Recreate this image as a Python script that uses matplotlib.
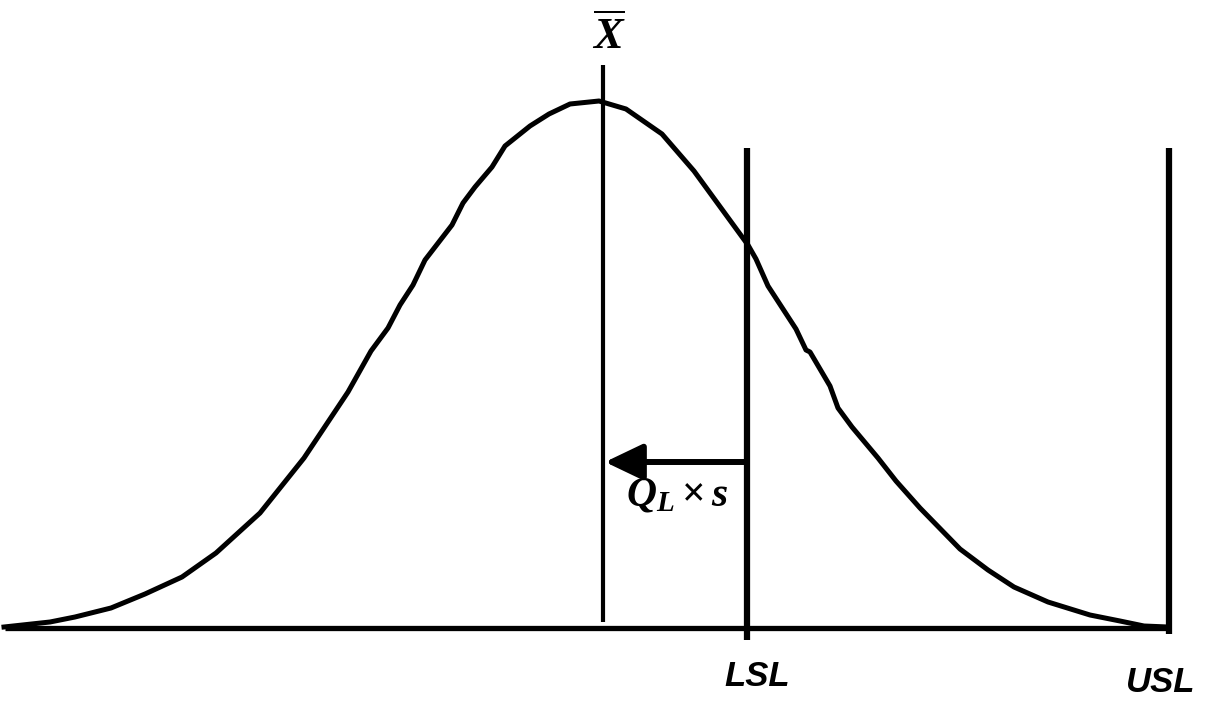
import matplotlib
matplotlib.use("Agg")
import matplotlib.pyplot as plt
from matplotlib.patches import FancyArrowPatch

# Кривa нормального розподілу: x та висота над базовою лінією
curve_x = [4, 50, 75, 111, 145, 182, 216, 260, 304, 348, 371, 388, 400, 413, 425,
           452, 463, 475, 492, 505, 530, 549, 570, 599,
           626, 662, 694, 748, 756, 768, 796, 806, 810, 830, 838, 852, 878, 896,
           920, 960, 988, 1014, 1048, 1090, 1120, 1144, 1168]
curve_h = [1, 6, 11, 20, 34, 51, 75, 115, 170, 236, 277, 300, 323, 343, 368,
           403, 425, 441, 461, 482, 502, 514, 524, 527,
           519, 494, 457, 383, 369, 342, 299, 278, 276, 242, 220, 201, 170, 147,
           120, 79, 58, 41, 26, 13, 7, 2, 1]

# Положення середнього та меж допуску
mean_x = 603
lsl_x = 747
usl_x = 1169
base_left, base_right = 5, 1169

mean_top, mean_bottom = 563, 6
limit_top = 480
arrow_h = 166

plt.rcParams['mathtext.fontset'] = 'custom'
plt.rcParams['mathtext.it'] = 'Liberation Serif:italic:bold'
plt.rcParams['mathtext.rm'] = 'Liberation Serif:bold'
plt.rcParams['mathtext.bf'] = 'Liberation Serif:bold'

fig = plt.figure(figsize=(12.07, 7.03), dpi=100)
ax = fig.add_axes([0, 0, 1, 1])
ax.set_xlim(0, 1207)
ax.set_ylim(-75, 628)
ax.axis('off')

# Базова лінія та крива
ax.plot([base_left, base_right], [0, 0], color='black', lw=3.8, solid_capstyle='butt')
ax.plot(curve_x, curve_h, color='black', lw=3.6, solid_joinstyle='round')

# Вертикальні лінії
ax.plot([mean_x, mean_x], [mean_bottom, mean_top], color='black', lw=3.0, solid_capstyle='butt')
ax.plot([lsl_x, lsl_x], [-12, limit_top], color='black', lw=4.5, solid_capstyle='butt')
ax.plot([usl_x, usl_x], [-6, limit_top], color='black', lw=4.5, solid_capstyle='butt')

# Стрілка від LSL до середнього
arrow = FancyArrowPatch((lsl_x, arrow_h), (mean_x + 2, arrow_h),
                        arrowstyle='-|>,head_length=23,head_width=11',
                        mutation_scale=1, color='black', lw=4.3,
                        shrinkA=0, shrinkB=0)
ax.add_patch(arrow)

# Підписи
ax.text(677, 134, r'$Q_L \times s$', fontsize=30, ha='center', va='center')
ax.text(mean_x + 6, 592, r'$\overline{X}$', fontsize=32, ha='center', va='center')
ax.text(757, -49, 'LSL', fontsize=25, fontstyle='italic', fontweight='bold',
        family='Liberation Sans', ha='center', va='center')
ax.text(1161, -54, 'USL', fontsize=25, fontstyle='italic', fontweight='bold',
        family='Liberation Sans', ha='center', va='center')

fig.savefig('out.png', dpi=100, facecolor='white')
